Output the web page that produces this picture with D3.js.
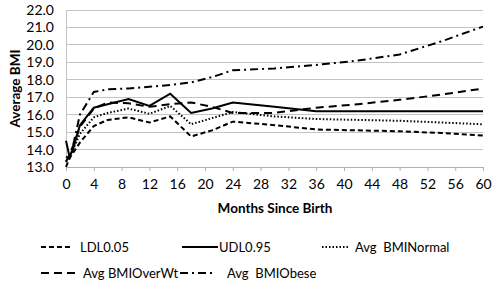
<!DOCTYPE html>
<html>
<head>
<meta charset="utf-8">
<script src="https://cdn.jsdelivr.net/npm/d3@7"></script>
<style>
  body { margin: 0; background: #fff; }
  text { font-family: Lato, "Liberation Sans", sans-serif; fill: #000; }
</style>
</head>
<body>
<div id="chart"></div>
<script>
const width = 500;
const height = 286;

// data
const months = [0, 0.5, 1, 2, 4, 6, 9, 12, 15, 18, 21, 24, 30, 36, 42, 48, 54, 60];
const ldl =     [13.0, 13.5, 13.8, 14.4, 15.35, 15.7, 15.85, 15.55, 15.9, 14.75, 15.1, 15.6, 15.4, 15.15, 15.1, 15.05, 14.95, 14.8];
const udl =     [14.5, 13.6, 14.0, 15.4, 16.4, 16.6, 16.9, 16.5, 17.2, 16.1, 16.35, 16.7, 16.45, 16.2, 16.2, 16.2, 16.2, 16.2];
const normal =  [13.3, 13.6, 14.0, 14.9, 15.85, 16.1, 16.35, 16.05, 16.5, 15.45, 15.8, 16.15, 15.9, 15.75, 15.7, 15.65, 15.55, 15.45];
const overWt =  [13.3, 13.7, 14.2, 15.3, 16.35, 16.7, 16.65, 16.45, 16.6, 16.7, 16.45, 16.1, 16.1, 16.4, 16.6, 16.85, 17.15, 17.5];
const obese =   [13.6, 13.5, 14.2, 16.0, 17.3, 17.45, 17.5, 17.6, 17.7, 17.85, 18.15, 18.55, 18.65, 18.85, 19.1, 19.45, 20.2, 21.05];
const seriesNames = ["LDL0.05", "UDL0.95", "Avg  BMINormal", "Avg BMIOverWt", "Avg  BMIObese"];
const yTicks = [13, 14, 15, 16, 17, 18, 19, 20, 21, 22];
const xTicks = d3.range(0, 61, 4);

const dashes = ["5,3", null, "1.5,2", "8,5", "8,4,2,4"];
const allSeries = [ldl, udl, normal, overWt, obese];

const svg = d3.select("#chart")
    .append("svg")
    .attr("width", width)
    .attr("height", height);

const x = d3.scaleLinear().domain([0, 60]).range([66, 483]);
const y = d3.scaleLinear().domain([13, 22]).range([167, 10]);

// horizontal gridlines
svg.append("g")
    .selectAll("line")
    .data(yTicks)
    .join("line")
    .attr("x1", x(0)).attr("x2", x(60))
    .attr("y1", d => y(d)).attr("y2", d => y(d))
    .attr("stroke", "#c4c4c4")
    .attr("stroke-width", 1)
    .attr("shape-rendering", "crispEdges");

// Y axis
const yAxis = svg.append("g")
    .attr("transform", `translate(${x(0)},0)`)
    .call(d3.axisLeft(y).tickValues(yTicks).tickFormat(d3.format(".1f")).tickSize(0).tickPadding(12));
yAxis.select(".domain").attr("stroke", "#c4c4c4");
yAxis.selectAll("text").style("font-size", "14px").style("font-family", "Lato");

// X axis
const xAxis = svg.append("g")
    .attr("transform", `translate(0,${y(13)})`)
    .call(d3.axisBottom(x).tickValues(xTicks).tickSize(4).tickPadding(8));
xAxis.select(".domain").attr("stroke", "#b0b0b0");
xAxis.selectAll("line").attr("stroke", "#b0b0b0");
xAxis.selectAll("text").style("font-size", "14px").style("font-family", "Lato");

// axis labels
svg.append("text")
    .attr("text-anchor", "middle")
    .attr("x", 275)
    .attr("y", 213)
    .style("font-size", "13.5px")
    .style("font-weight", "bold")
    .text("Months Since Birth");

svg.append("text")
    .attr("text-anchor", "middle")
    .attr("transform", "rotate(-90)")
    .attr("x", -y(17.5))
    .attr("y", 20)
    .style("font-size", "13.5px")
    .style("font-weight", "bold")
    .text("Average BMI");

// lines
const line = d3.line()
    .x((d, i) => x(months[i]))
    .y(d => y(d));

svg.append("g")
    .selectAll("path")
    .data(allSeries)
    .join("path")
    .attr("d", line)
    .attr("fill", "none")
    .attr("stroke", "#000")
    .attr("stroke-width", 2)
    .attr("stroke-dasharray", (d, i) => dashes[i]);

// legend
const legendPos = [
    {sx: 41, ex: 73, tx: 80, y: 247},
    {sx: 182, ex: 218, tx: 219, y: 247},
    {sx: 322, ex: 348, tx: 355, y: 247},
    {sx: 41, ex: 75, tx: 83, y: 273},
    {sx: 180, ex: 213, tx: 227, y: 273}
];

const legend = svg.selectAll(".legend")
    .data(seriesNames)
    .join("g")
    .attr("class", "legend");

legend.append("line")
    .attr("x1", (d, i) => legendPos[i].sx)
    .attr("x2", (d, i) => legendPos[i].ex)
    .attr("y1", (d, i) => legendPos[i].y)
    .attr("y2", (d, i) => legendPos[i].y)
    .attr("stroke", "#000")
    .attr("stroke-width", 2)
    .attr("stroke-dasharray", (d, i) => dashes[i]);

legend.append("text")
    .attr("x", (d, i) => legendPos[i].tx)
    .attr("y", (d, i) => legendPos[i].y)
    .attr("dy", ".35em")
    .style("font-size", "13px")
    .style("white-space", "pre")
    .text(d => d);
</script>
</body>
</html>
